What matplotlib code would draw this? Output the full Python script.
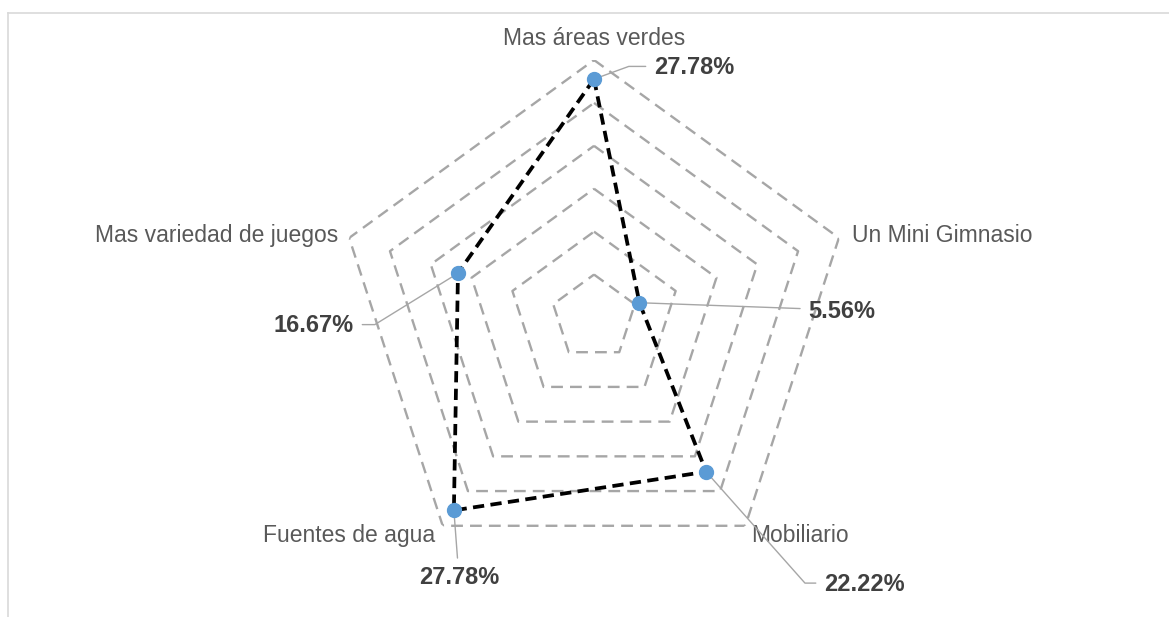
#!/usr/bin/env python3
import numpy as np
import matplotlib.pyplot as plt
from matplotlib.lines import Line2D


CATEGORIES = [
    "Mas áreas verdes",
    "Un Mini Gimnasio",
    "Mobiliario",
    "Fuentes de agua",
    "Mas variedad de juegos",
]
VALUES = [27.78, 5.56, 22.22, 27.78, 16.67]
VALUE_LABELS = ["27.78%", "5.56%", "22.22%", "27.78%", "16.67%"]
RINGS = [5, 10, 15, 20, 25, 30]

# label placement (pixel offsets from the outer vertex / marker)
CAT_OFFSETS = [(0, 15, "center"), (13, -4, "left"), (6, -16, "left"),
               (-8, -16, "right"), (-11, -4, "right")]
VAL_OFFSETS = [(60, 5, "left"), (169, -15, "left"), (118, -119, "left"),
               (5, -74, "center"), (-104, -59, "right")]
LEADER_STYLE = [
    "angle,angleA=0,angleB=20,rad=0",
    "arc3,rad=0",
    "angle,angleA=0,angleB=-48.4,rad=0",
    "arc3,rad=0",
    "angle,angleA=0,angleB=31.7,rad=0",
]

GRID_GRAY = "#a6a6a6"
LABEL_GRAY = "#595959"
VALUE_DARK = "#404040"
MARKER_BLUE = "#5b9bd5"

plt.rcParams["font.family"] = ["Liberation Sans", "DejaVu Sans"]


def main():
    n = len(CATEGORIES)
    theta = np.linspace(0, 2 * np.pi, n, endpoint=False)
    theta_closed = np.append(theta, theta[0])

    fig = plt.figure(figsize=(11.69, 6.17), dpi=100)
    ax = fig.add_axes([0.2879, 0.0681, 0.4405, 0.8347], projection="polar")
    ax.set_theta_offset(np.pi / 2)
    ax.set_theta_direction(-1)
    ax.set_ylim(0, RINGS[-1])
    ax.grid(False)
    ax.set_xticks([])
    ax.set_yticks([])
    ax.spines["polar"].set_visible(False)
    ax.patch.set_visible(False)

    for r in RINGS:
        ax.plot(theta_closed, [r] * (n + 1), color=GRID_GRAY, lw=1.7,
                linestyle=(0, (5.0, 3.0)), zorder=1)

    vals_closed = VALUES + VALUES[:1]
    ax.plot(theta_closed, vals_closed, color="black", lw=2.7,
            linestyle=(0, (3.0, 1.7)), zorder=4)
    ax.plot(theta, VALUES, linestyle="none", marker="o", markersize=10,
            color=MARKER_BLUE, zorder=6)

    for t, cat, (dx, dy, ha) in zip(theta, CATEGORIES, CAT_OFFSETS):
        ax.annotate(cat, xy=(t, RINGS[-1]), xytext=(dx, dy),
                    textcoords="offset pixels", ha=ha, va="baseline",
                    fontsize=16.5, color=LABEL_GRAY, annotation_clip=False)

    for t, v, lab, (dx, dy, ha), style in zip(theta, VALUES, VALUE_LABELS,
                                              VAL_OFFSETS, LEADER_STYLE):
        ax.annotate(lab, xy=(t, v), xytext=(dx, dy),
                    textcoords="offset pixels", ha=ha, va="baseline",
                    fontsize=17, fontweight="bold", color=VALUE_DARK,
                    annotation_clip=False, zorder=5,
                    arrowprops=dict(arrowstyle="-", color=GRID_GRAY, lw=1.0,
                                    connectionstyle=style, shrinkB=0,
                                    shrinkA=4, relpos=(0.5, 0.55)))

    # light chart-area border (left and top edges visible)
    x0 = 7.5 / 1169
    y0 = 1 - 12.5 / 617
    fig.add_artist(Line2D([x0, x0], [0, y0], transform=fig.transFigure,
                          color="#d9d9d9", lw=1.2))
    fig.add_artist(Line2D([x0, 1], [y0, y0], transform=fig.transFigure,
                          color="#d9d9d9", lw=1.2))

    fig.savefig("out.png", dpi=100)


if __name__ == "__main__":
    main()
